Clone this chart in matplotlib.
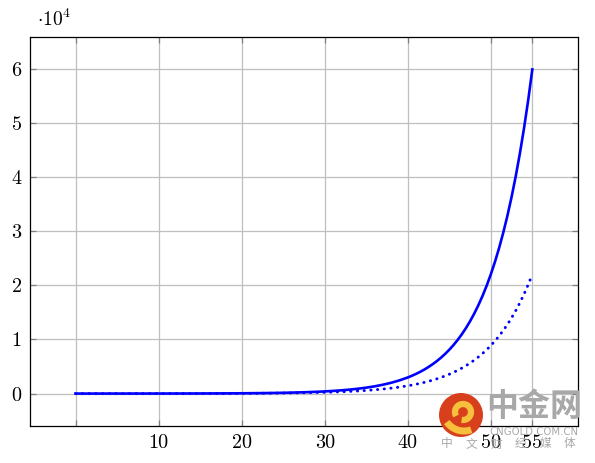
import matplotlib
matplotlib.use("Agg")
import matplotlib.pyplot as plt
from matplotlib.patches import Circle, Arc

# ---- data ----
x_vals = list(range(0, 40)) + [40 + 0.5 * i for i in range(31)]
solid_vals = [1, 1.2, 1.5, 1.8, 2.2, 2.7, 3.3, 4.1, 5.0, 6.0,
              7.4, 9.0, 11, 13.5, 16.4, 20, 24.5, 30, 36.6, 44.7,
              54.6, 66.7, 81.5, 99.5, 121.5, 148, 181, 221, 270, 330,
              403, 493, 602, 735, 898, 1097, 1339, 1636, 1998, 2441,
              2981, 3294, 3641, 4024, 4447, 4915, 5432, 6003, 6634, 7332,
              8103, 8955, 9897, 10938, 12088, 13360, 14765, 16318, 18034, 19930,
              22026, 24343, 26903, 29733, 32860, 36316, 40135, 44356, 49021, 54176,
              59874]
dotted_vals = [1, 1.2, 1.4, 1.7, 2.1, 2.5, 3.0, 3.6, 4.3, 5.1,
               6.2, 7.4, 8.9, 10.6, 12.8, 15.3, 18.3, 22, 26.4, 31.6,
               37.9, 45.5, 54.6, 65.5, 78.5, 94.2, 113, 135.5, 162.5, 195,
               234, 280, 336, 403, 484, 580, 696, 835, 1001, 1201,
               1440, 1578, 1728, 1892, 2072, 2270, 2486, 2722, 2981, 3265,
               3575, 3916, 4288, 4697, 5144, 5634, 6170, 6758, 7400, 8103,
               8876, 9720, 10646, 11658, 12768, 13984, 15315, 16773, 18369, 20120,
               22026]
x_ticks = [0, 10, 20, 30, 40, 50, 55]
x_tick_labels = ["", "10", "20", "30", "40", "50", "55"]
y_ticks = [0, 10000, 20000, 30000, 40000, 50000, 60000]
y_tick_labels = ["0", "1", "2", "3", "4", "5", "6"]
scale_label = r"$\cdot 10^{4}$"
wm_title = "中金网"
wm_site = "CNGOLD.COM.CN"
wm_slogan = ["中", "文", "财", "经", "媒", "体"]

plt.rcParams["font.family"] = "serif"
plt.rcParams["font.serif"] = ["cmr10", "DejaVu Serif"]
plt.rcParams["mathtext.fontset"] = "cm"
plt.rcParams["axes.unicode_minus"] = False

W, H = 595, 463
fig = plt.figure(figsize=(W / 100, H / 100), dpi=100)
ax = fig.add_axes([30 / W, 1 - 426 / H, (578 - 30) / W, (426 - 37) / H])

ax.plot(x_vals, solid_vals, color="#0000ff", lw=1.9, zorder=3,
        solid_joinstyle="round")
ax.plot(x_vals, dotted_vals, color="#0000ff", lw=2.1,
        linestyle=(0, (0.1, 2.2)), dash_capstyle="round", zorder=3)

ax.set_xlim(-5.5, 60.5)
ax.set_ylim(-5987, 65861)
ax.set_xticks(x_ticks)
ax.set_xticklabels(x_tick_labels)
ax.set_yticks(y_ticks)
ax.set_yticklabels(y_tick_labels)
ax.grid(True, color="#bfbfbf", lw=0.9, zorder=0)
ax.tick_params(direction="in", length=4, width=0.9, color="#808080",
               top=True, right=True, labelsize=14.5)
ax.tick_params(axis="x", pad=5.5)
ax.tick_params(axis="y", pad=6)
for s in ax.spines.values():
    s.set_linewidth(0.9)
    s.set_color("black")

fig.text(37 / W, 1 - 19 / H, scale_label, fontsize=14, ha="left", va="center")

# ---- watermark ----
cjk = ["Noto Sans CJK SC", "DejaVu Sans"]
cx, cy, r = 461, 415, 22
ccx, ccy = cx / 100, (H - cy) / 100
circ = Circle((ccx, ccy), r / 100, transform=fig.dpi_scale_trans,
              facecolor="#d8401d", edgecolor="none", zorder=10)
fig.patches.append(circ)
loop = Arc((ccx + 0.02, ccy + 0.03), 0.16, 0.16, theta1=-100, theta2=210,
           transform=fig.dpi_scale_trans, color="#f7c03c", lw=4.5, zorder=11)
fig.patches.append(loop)
tail = Arc((ccx + 0.03, ccy + 0.05), 0.42, 0.42, theta1=215, theta2=290,
           transform=fig.dpi_scale_trans, color="#f7c03c", lw=5, zorder=11)
fig.patches.append(tail)
fig.text(534 / W, 1 - 407 / H, wm_title, family=cjk, fontsize=23, fontweight="bold",
         color="#a8a8a8", ha="center", va="center", zorder=12)
fig.text(534 / W, 1 - 432 / H, wm_site, family=["DejaVu Sans"], fontsize=7.3,
         color="#a8a8a8", ha="center", va="center", zorder=12)
for i, ch in enumerate(wm_slogan):
    fig.text((447 + 24.6 * i) / W, 1 - 444 / H, ch, family=cjk, fontsize=8.5,
             color="#a8a8a8", ha="center", va="center", zorder=12)

fig.savefig("out.png", dpi=100)
